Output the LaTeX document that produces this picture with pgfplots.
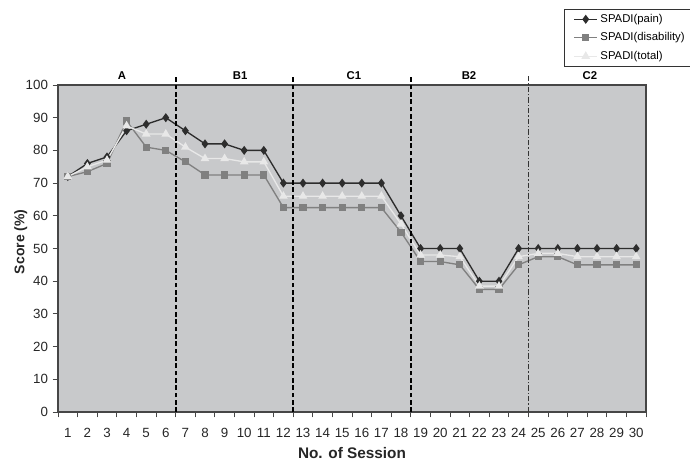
\documentclass[border=0pt]{standalone}
\usepackage{pgfplots}
\pgfplotsset{compat=1.18}
\usepackage{fontspec}
\setmainfont{Liberation Sans}
\definecolor{bggray}{RGB}{200,201,203}
\definecolor{painc}{RGB}{45,45,45}
\definecolor{disc}{RGB}{128,128,128}
\definecolor{totc}{RGB}{232,232,232}
\definecolor{axc}{RGB}{70,70,70}
\begin{document}
\begin{tikzpicture}
\begin{axis}[
  at={(0,0)}, anchor=south west,
  scale only axis, width=441pt, height=245.25pt,
  xmin=0.5, xmax=30.5, ymin=0, ymax=100,
  axis background/.style={fill=bggray},
  axis line style={axc, line width=0.8pt},
  clip=false,
  /pgf/number format/assume math mode=true,
  ticklabel style={font=\fontsize{10}{12}\selectfont, text=black!85},
  xtick={0.5,1.5,...,30.5}, xticklabels={},
  extra x ticks={1,...,30},
  extra x tick style={major tick length=0pt, xticklabel style={yshift=-8.5pt}},
  extra x tick labels={1,2,3,4,5,6,7,8,9,10,11,12,13,14,15,16,17,18,19,20,21,22,23,24,25,26,27,28,29,30},
  ytick={0,10,...,100},
  tick align=outside, major tick length=4pt,
  tick style={axc, line width=0.6pt},
  xtick pos=bottom, ytick pos=left,
  xlabel={\textbf{No. of Session}},
  ylabel={\textbf{Score (\%)}},
  label style={font=\fontsize{11.5}{13}\selectfont, text=black!85},
  xlabel style={yshift=3.5pt},
  ylabel style={yshift=-8pt, xshift=5pt, font=\fontsize{10.5}{12}\selectfont},
  legend style={at={(axis description cs:0.8605,1.232)}, anchor=north west,
    draw=black!80, line width=0.6pt, font=\fontsize{8.5}{10}\selectfont,
    row sep=2.2pt, inner xsep=7pt, inner ysep=1.5pt, cells={anchor=west}},
  legend cell align=left,
]
\addplot[painc, line width=1pt, mark=diamond*, mark size=2.6pt, mark options={fill=painc, draw=painc}] coordinates {
(1,72)(2,76)(3,78)(4,86)(5,88)(6,90)(7,86)(8,82)(9,82)(10,80)(11,80)(12,70)(13,70)(14,70)(15,70)(16,70)(17,70)(18,60)(19,50)(20,50)(21,50)(22,40)(23,40)(24,50)(25,50)(26,50)(27,50)(28,50)(29,50)(30,50)};
\addlegendentry{SPADI(pain)}
\addplot[disc, line width=1pt, mark=square*, mark size=2.2pt, mark options={fill=disc, draw=disc}] coordinates {
(1,72)(2,73.5)(3,76)(4,89)(5,81)(6,80)(7,76.5)(8,72.5)(9,72.5)(10,72.5)(11,72.5)(12,62.5)(13,62.5)(14,62.5)(15,62.5)(16,62.5)(17,62.5)(18,55)(19,46)(20,46)(21,45)(22,37.5)(23,37.5)(24,45)(25,47.5)(26,47.5)(27,45)(28,45)(29,45)(30,45)};
\addlegendentry{SPADI(disability)}
\addplot[totc, line width=1pt, mark=triangle*, mark size=2.8pt, mark options={fill=totc, draw=totc}] coordinates {
(1,72)(2,75)(3,77)(4,87.5)(5,85)(6,85)(7,81)(8,77.5)(9,77.5)(10,76.5)(11,76.5)(12,66)(13,66)(14,66)(15,66)(16,66)(17,66)(18,57.5)(19,48)(20,48)(21,47.5)(22,38.5)(23,38.5)(24,47.5)(25,48.5)(26,48.5)(27,47.5)(28,47.5)(29,47.5)(30,47.5)};
\addlegendentry{SPADI(total)}
\draw[black, line width=1.4pt, dash pattern=on 3.5pt off 2pt] (axis cs:6.5,0) -- (axis cs:6.5,102.8);
\draw[black, line width=1.4pt, dash pattern=on 3.5pt off 2pt] (axis cs:12.5,0) -- (axis cs:12.5,102.8);
\draw[black, line width=1.4pt, dash pattern=on 3.5pt off 2pt] (axis cs:18.5,0) -- (axis cs:18.5,102.8);
\draw[black!80, line width=0.6pt, dash pattern=on 4pt off 1.5pt on 1pt off 1.5pt] (axis cs:24.5,0) -- (axis cs:24.5,102.8);
\node[font=\bfseries\fontsize{8.5}{10}\selectfont, anchor=base] at (axis cs:3.77,101.8) {A};
\node[font=\bfseries\fontsize{8.5}{10}\selectfont, anchor=base] at (axis cs:9.79,101.8) {B1};
\node[font=\bfseries\fontsize{8.5}{10}\selectfont, anchor=base] at (axis cs:15.6,101.8) {C1};
\node[font=\bfseries\fontsize{8.5}{10}\selectfont, anchor=base] at (axis cs:21.47,101.8) {B2};
\node[font=\bfseries\fontsize{8.5}{10}\selectfont, anchor=base] at (axis cs:27.64,101.8) {C2};
\end{axis}
\pgfresetboundingbox
\path[use as bounding box] (-43.5pt,-36.75pt) rectangle (474pt,309pt);
\end{tikzpicture}
\end{document}
